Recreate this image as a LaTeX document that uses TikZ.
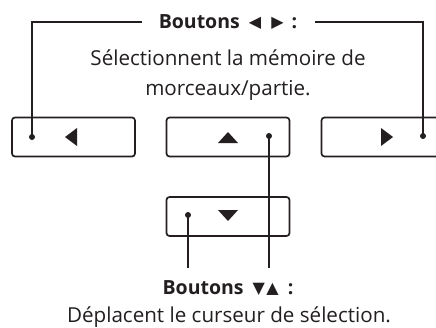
\documentclass[tikz,border=0pt]{standalone}
\usepackage{fontspec}
\setmainfont{Open Sans}
\newfontfamily\symf{DejaVu Sans}
\definecolor{ink}{HTML}{231F20}
\newcommand{\tsym}[1]{\raisebox{0.8pt}{\symf\fontsize{16}{16}\selectfont #1}}
\begin{document}
\begin{tikzpicture}[x=1pt,y=-1pt,
  btn/.style={draw=ink, line width=1.7pt, rounded corners=3pt, minimum width=123pt, minimum height=39pt, inner sep=0pt},
  dotc/.style={circle, fill=ink, inner sep=0pt, minimum size=6pt},
  lead/.style={draw=ink, line width=1.1pt},
  tri/.style={fill=ink},
  ttl/.style={text=ink, font=\bfseries\fontsize{19.5}{22}\selectfont, inner sep=0pt},
  txt/.style={text=ink, font=\fontsize{20.6}{24}\selectfont, inner sep=0pt}]
\useasboundingbox (0,0) rectangle (436,327);
\fill[white] (0,0) rectangle (436,327);
% buttons
\node[btn] (bL) at (73.5,137) {};
\node[btn] (bU) at (228,137) {};
\node[btn] (bR) at (383,137) {};
\node[btn] (bD) at (228,216.5) {};
% arrows in buttons
\fill[tri] (65,137) -- (77,128) -- (77,146) -- cycle;
\fill[tri] (228,132) -- (238,143) -- (218,143) -- cycle;
\fill[tri] (393,137) -- (381,128) -- (381,146) -- cycle;
\fill[tri] (228,221) -- (218,210) -- (238,210) -- cycle;
% texts
\node[ttl] (t1) at (228,22) {Boutons\hspace{4pt} \tsym{◀}\hspace{5pt} \tsym{▶}\hspace{3pt} :};
\node[txt] (l1) at (228,58) {Sélectionnent la mémoire de};
\node[txt] (l2) at (228,90) {morceaux/partie.};
\node[ttl] (t2) at (228,288) {Boutons\hspace{4pt} \tsym{▼}\hspace{1.5pt}\tsym{▲}\hspace{4pt} :};
\node[txt] (l3) at (229,317) {Déplacent le curseur de sélection.};
% dots
\node[dotc] (dL) at (32,137) {};
\node[dotc] (dU) at (269,136) {};
\node[dotc] (dR) at (423,136) {};
\node[dotc] (dD) at (188,215) {};
% connector ends
\coordinate (gL) at (142,22);
\coordinate (gR) at (315,22);
\coordinate (eD) at (188,268);
\coordinate (eU) at (269,268);
\draw[lead] (dL.center) |- (gL);
\draw[lead] (dR.center) |- (gR);
\draw[lead] (dD.center) -- (eD);
\draw[lead] (dU.center) -- (eU);
\end{tikzpicture}
\end{document}
